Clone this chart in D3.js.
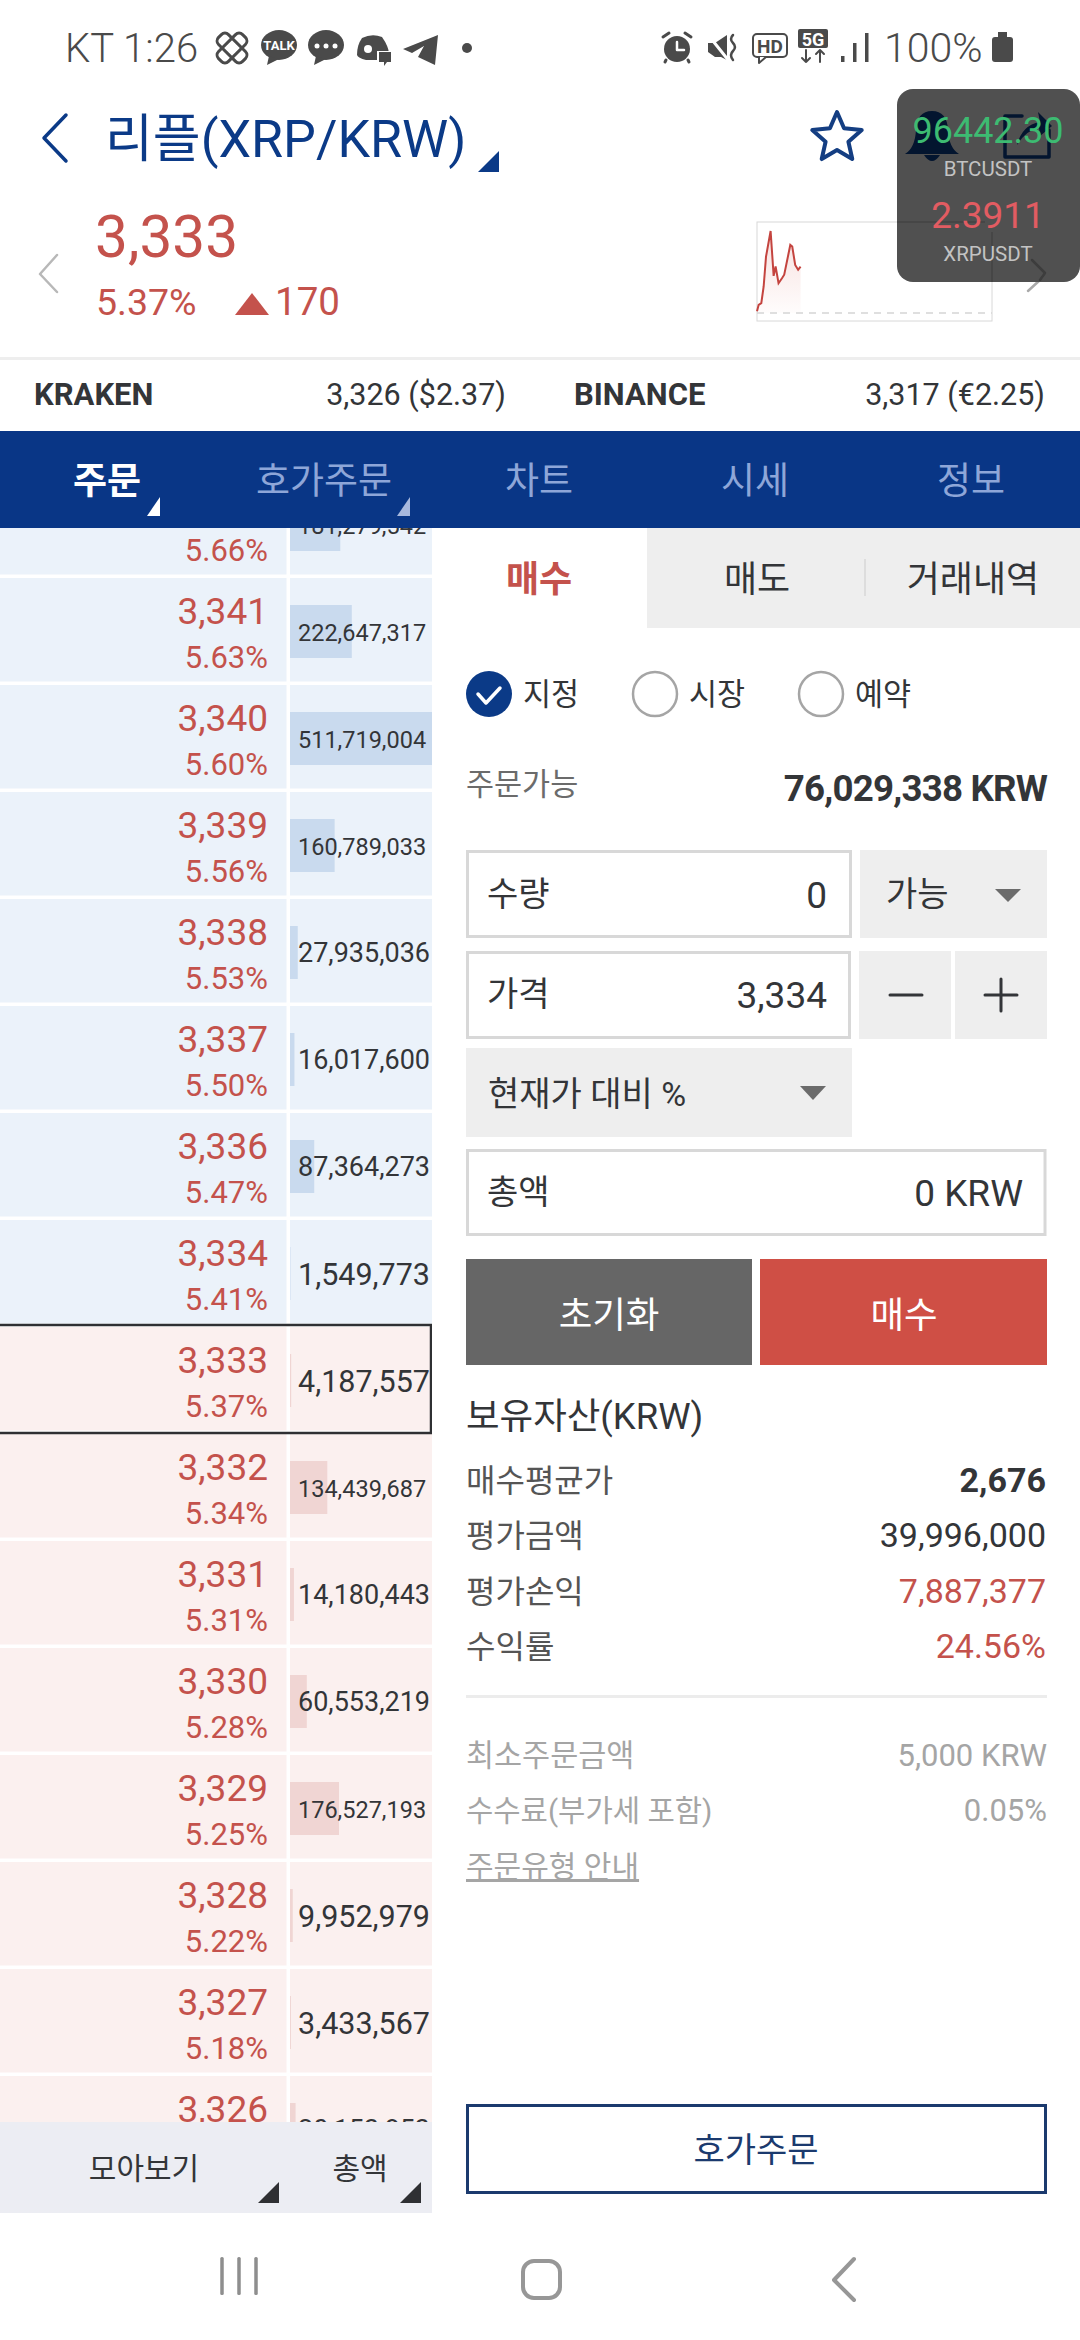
<!DOCTYPE html>
<html>
<head>
<meta charset="utf-8">
<style>
	body { margin: 0; background: #fff; }
	svg { display: block; }
	text { font-family: Roboto, "Noto Sans CJK KR", sans-serif; }
</style>
<script src="https://cdnjs.cloudflare.com/ajax/libs/d3/7.8.5/d3.min.js"></script>
</head>
<body>
<div id="container"></div>
<script>
// order book
var prices = [3342, 3341, 3340, 3339, 3338, 3337, 3336, 3334, 3333, 3332, 3331, 3330, 3329, 3328, 3327, 3326];
var pcts = [5.66, 5.63, 5.60, 5.56, 5.53, 5.50, 5.47, 5.41, 5.37, 5.34, 5.31, 5.28, 5.25, 5.22, 5.18, 5.15];
var vols = [181279542, 222647317, 511719004, 160789033, 27935036, 16017600, 87364273, 1549773, 4187557, 134439687, 14180443, 60553219, 176527193, 9952979, 3433567, 20153853];
var currentPrice = 3333;

// mini chart next to the price, hours since open and price
var sparkHours = [0, 0.17, 0.44, 0.68, 0.92, 1.39, 1.7, 1.9, 2.2, 2.55, 2.78, 3.4, 3.6, 3.9, 4.2, 4.45];
var sparkPrices = [3169, 3193, 3199, 3260, 3369, 3463, 3299, 3333, 3272, 3290, 3303, 3412, 3406, 3339, 3321, 3333];
var prevClose = 3163;

// text of the screen
var tabs = ['주문', '호가주문', '차트', '시세', '정보'];
var tabX = [107, 324, 539, 755, 971];
var assetLabels = ['매수평균가', '평가금액', '평가손익', '수익률'];
var assetValues = ['2,676', '39,996,000', '7,887,377', '24.56%'];
var assetY = [1492, 1547, 1603, 1658];

var red = '#c4524c', navy = '#0b3a87', dark = '#333538', grey = '#4a4a4a';

var svg = d3.select('#container').append('svg')
	.attr('width', 1080)
	.attr('height', 2340);

function txt(g, x, y, s, size, fill, anchor, weight) {
	return g.append('text')
		.attr('x', x)
		.attr('y', y)
		.attr('font-size', size)
		.attr('fill', fill)
		.attr('text-anchor', anchor || 'start')
		.attr('font-weight', weight || 400)
		.text(s);
}

function box(g, x, y, w, h, fill, stroke, sw) {
	return g.append('rect')
		.attr('x', x)
		.attr('y', y)
		.attr('width', w)
		.attr('height', h)
		.attr('fill', fill)
		.attr('stroke', stroke || 'none')
		.attr('stroke-width', sw || 0);
}

function poly(g, d, fill, stroke, sw) {
	return g.append('path')
		.attr('d', d)
		.attr('fill', fill)
		.attr('stroke', stroke || 'none')
		.attr('stroke-width', sw || 0)
		.attr('stroke-linecap', 'round')
		.attr('stroke-linejoin', 'round');
}

drawStatus();
drawHeader();
drawSpark();
drawOverlay();
drawBook();
drawForm();
drawNav();

function drawStatus() {
	var g = svg.append('g');
	txt(g, 65, 62, 'KT 1:26', 40, grey, 'start', 300);

	// knot icon
	var knot = g.append('g').attr('transform', 'translate(232,48) rotate(45)');
	box(knot, -17, -7, 34, 14, 'none', grey, 3).attr('rx', 5);
	box(knot, -7, -17, 14, 34, 'none', grey, 3).attr('rx', 5);

	// talk bubbles
	g.append('ellipse').attr('cx', 279).attr('cy', 45).attr('rx', 18).attr('ry', 15).attr('fill', grey);
	poly(g, 'M269,56L267,65L279,59Z', grey);
	txt(g, 279, 50, 'TALK', 13, '#fff', 'middle', 700);
	g.append('ellipse').attr('cx', 326).attr('cy', 45).attr('rx', 18).attr('ry', 15).attr('fill', grey);
	poly(g, 'M316,56L314,65L326,59Z', grey);
	[317, 326, 335].forEach(function(x) {
		g.append('circle').attr('cx', x).attr('cy', 46).attr('r', 2.5).attr('fill', '#fff');
	});

	// discord
	poly(g, 'M362,38Q372,33 382,37Q389,47 389,54L379,60L366,60Q358,58 357,55Q357,45 362,38Z', grey);
	g.append('circle').attr('cx', 368).attr('cy', 49).attr('r', 4).attr('fill', '#fff');
	box(g, 377, 51, 15, 12, '#fff');
	poly(g, 'M379,52H391V62H387L384,66V62H379Z', grey);

	// telegram
	poly(g, 'M403,49L438,35L435,65L418,57L424,46L412,53Z', grey);
	g.append('circle').attr('cx', 467).attr('cy', 48).attr('r', 5).attr('fill', grey);

	// alarm
	g.append('circle').attr('cx', 677).attr('cy', 49).attr('r', 13).attr('fill', grey);
	poly(g, 'M677,42V50H684', 'none', '#fff', 2.5);
	poly(g, 'M663,37L669,33', 'none', grey, 3);
	poly(g, 'M691,37L685,33', 'none', grey, 3);
	poly(g, 'M666,60L665,62', 'none', grey, 3);
	poly(g, 'M688,60L689,62', 'none', grey, 3);

	// mute
	poly(g, 'M708,43H715L727,35V60L721,57H715L708,52Z', grey);
	poly(g, 'M709,36L729,61', 'none', '#fff', 3);
	poly(g, 'M733,35Q729,39 733,43Q737,47 733,51Q729,55 733,60', 'none', grey, 2.5);

	// HD
	box(g, 753, 34, 34, 23, '#fff', grey, 2).attr('rx', 4);
	poly(g, 'M759,57V63L766,57', '#fff', grey, 2);
	txt(g, 770, 53, 'HD', 19, grey, 'middle', 700);

	// 5G
	box(g, 798, 29, 30, 19, grey).attr('rx', 2);
	txt(g, 813, 46, '5G', 18, '#fff', 'middle', 700);
	poly(g, 'M806,50V62M802,58L806,62L810,58', 'none', grey, 2);
	poly(g, 'M820,62V50M816,54L820,50L824,54', 'none', grey, 2);

	// signal, battery
	box(g, 841, 56, 3.5, 6, grey);
	box(g, 853, 43, 3.5, 19, grey);
	box(g, 865, 33, 3.5, 29, grey);
	txt(g, 884, 62, '100%', 41, grey, 'start', 300);
	box(g, 992, 37, 21, 25, grey).attr('rx', 3);
	box(g, 998, 32, 9, 6, grey);
}

function drawHeader() {
	var g = svg.append('g');
	poly(g, 'M66,115L44,138L66,161', 'none', navy, 3.5);
	txt(g, 105, 157, '리플(XRP/KRW)', 52, navy);
	poly(g, 'M499,151V172H478Z', navy);

	// star
	var star = d3.range(10).map(function(i) {
		var r = i % 2 ? 12 : 26, a = i * Math.PI / 5;
		return [837 + r * Math.sin(a), 138 - r * Math.cos(a)];
	});
	poly(g, d3.line()(star) + 'Z', 'none', '#143e82', 4);

	txt(g, 95, 257, '3,333', 58.5, red);
	txt(g, 96, 315, '5.37%', 37.5, red);
	poly(g, 'M252,293L269,315H235Z', red);
	txt(g, 275, 315, '170', 38.5, red);
	poly(g, 'M57,255L40,274L57,292', 'none', '#b8b8b8', 2.5);

	box(g, 0, 357, 1080, 3, '#eeeeee');
	txt(g, 34, 405, 'KRAKEN', 31, dark, 'start', 700);
	txt(g, 506, 405, '3,326 ($2.37)', 30.5, dark, 'end');
	txt(g, 574, 405, 'BINANCE', 31, dark, 'start', 700);
	txt(g, 1045, 405, '3,317 (€2.25)', 30.5, dark, 'end');

	box(g, 0, 431, 1080, 97, '#093686');
	tabs.forEach(function(t, i) {
		txt(g, tabX[i], 494, t, 37, i == 0 ? '#fff' : '#8ea6d8', 'middle', i == 0 ? 700 : 400);
	});
	poly(g, 'M160,497V516H147Z', '#fff');
	poly(g, 'M410,497V516H397Z', '#a8b9de');
}

function drawSpark() {
	var g = svg.append('g');
	var x = d3.scaleLinear().domain([0, 24]).range([757, 992]);
	var y = d3.scaleLinear().domain([prevClose, 3463]).range([313, 231]);

	var grad = svg.append('defs').append('linearGradient')
		.attr('id', 'sparkFill')
		.attr('x1', 0).attr('y1', 0)
		.attr('x2', 0).attr('y2', 1);
	grad.append('stop').attr('offset', 0).attr('stop-color', '#e9a6a1').attr('stop-opacity', 0.35);
	grad.append('stop').attr('offset', 1).attr('stop-color', '#e9a6a1').attr('stop-opacity', 0.03);

	box(g, 757, 222, 235, 99, '#fff', '#d8d8d8', 1);

	var area = d3.area()
		.x(function(d, i) { return x(sparkHours[i]); })
		.y0(y(prevClose))
		.y1(function(d) { return y(d); });
	var line = d3.line()
		.x(function(d, i) { return x(sparkHours[i]); })
		.y(function(d) { return y(d); });

	g.append('path').datum(sparkPrices).attr('d', area).attr('fill', 'url(#sparkFill)');
	g.append('line')
		.attr('x1', 757).attr('x2', 992)
		.attr('y1', y(prevClose)).attr('y2', y(prevClose))
		.attr('stroke', '#d5d5d5')
		.attr('stroke-width', 1.5)
		.attr('stroke-dasharray', '7,6');
	g.append('path').datum(sparkPrices)
		.attr('d', line)
		.attr('fill', 'none')
		.attr('stroke', '#c4443f')
		.attr('stroke-width', 2);
}

function drawOverlay() {
	var g = svg.append('g');
	poly(g, 'M1040,280L1028,291', 'none', '#aaaaaa', 2.5);
	box(g, 897, 89, 183, 193, '#505050').attr('rx', 16);

	// things of the page showing through the floating window
	poly(g, 'M932,111Q947,111 948,130Q949,148 959,154H905Q915,148 916,130Q917,111 932,111Z', '#03152f');
	poly(g, 'M924,155Q932,167 940,155Z', '#03152f');
	poly(g, 'M1022,116H1005V157H1049V130', 'none', '#03152f', 3.5);
	poly(g, 'M1017,145Q1022,125 1040,122L1038,112L1052,126L1040,136L1039,128Q1026,130 1017,145Z', '#03152f');
	g.append('line').attr('x1', 897).attr('x2', 985).attr('y1', 222).attr('y2', 222).attr('stroke', '#3d3d3d').attr('stroke-width', 1);
	g.append('line').attr('x1', 992).attr('x2', 992).attr('y1', 232).attr('y2', 282).attr('stroke', '#3d3d3d').attr('stroke-width', 1);
	poly(g, 'M1032,260L1045,273L1040,280', 'none', '#3d3d3d', 2.5);

	txt(g, 988, 143, '96442.30', 36, '#3dbb72', 'middle');
	txt(g, 988, 176, 'BTCUSDT', 20.5, '#c3c3c3', 'middle');
	txt(g, 988, 228, '2.3911', 37, '#e25c62', 'middle');
	txt(g, 988, 261, 'XRPUSDT', 20.5, '#c3c3c3', 'middle');
}

function drawBook() {
	var rowH = 107;
	var y = d3.scaleBand()
		.domain(prices)
		.range([472, 472 + rowH * prices.length]);
	var volX = d3.scaleLinear()
		.domain([0, d3.max(vols)])
		.range([0, 142]);
	var volSize = { 7: 30.5, 8: 27, 9: 23.5 };

	svg.select('defs').append('clipPath')
		.attr('id', 'bookClip')
		.append('rect')
		.attr('x', 0).attr('y', 528)
		.attr('width', 432).attr('height', 1594);

	var g = svg.append('g').attr('clip-path', 'url(#bookClip)');

	var rows = g.selectAll('.row')
		.data(prices)
		.enter().append('g')
		.attr('class', 'row')
		.attr('transform', function(d) { return 'translate(0,' + y(d) + ')'; });

	function bg(d) { return d > currentPrice ? '#ebf2fa' : '#fbf0ef'; }

	rows.append('rect')
		.attr('y', -1)
		.attr('width', 286.5)
		.attr('height', 103.5)
		.attr('fill', bg);
	rows.append('rect')
		.attr('x', 290)
		.attr('y', -1)
		.attr('width', 142)
		.attr('height', 103.5)
		.attr('fill', bg);
	rows.append('rect')
		.attr('x', 290)
		.attr('y', 26)
		.attr('height', 53)
		.attr('width', function(d, i) { return volX(vols[i]); })
		.attr('fill', function(d) { return d > currentPrice ? '#c9daee' : '#f0d5d3'; });
	rows.append('text')
		.attr('x', 268)
		.attr('y', 45)
		.attr('text-anchor', 'end')
		.attr('font-size', 37)
		.attr('fill', red)
		.text(function(d) { return d3.format(',')(d); });
	rows.append('text')
		.attr('x', 268)
		.attr('y', 89)
		.attr('text-anchor', 'end')
		.attr('font-size', 31)
		.attr('fill', red)
		.text(function(d, i) { return pcts[i].toFixed(2) + '%'; });
	rows.append('text')
		.attr('x', 298)
		.attr('y', function(d, i) { return String(vols[i]).length == 7 ? 64 : 62; })
		.attr('font-size', function(d, i) { return volSize[String(vols[i]).length]; })
		.attr('fill', dark)
		.text(function(d, i) { return d3.format(',')(vols[i]); });

	// box around the current price
	box(g, -4, y(currentPrice) - 3, 435, 108, 'none', '#2f3033', 2.5);

	var foot = svg.append('g');
	box(foot, 0, 2122, 432, 91, '#ecedf3');
	txt(foot, 144, 2179, '모아보기', 30, dark, 'middle');
	txt(foot, 360, 2179, '총액', 30, dark, 'middle');
	poly(foot, 'M279,2182V2203H258Z', '#2f3033');
	poly(foot, 'M421,2182V2203H400Z', '#2f3033');
}

function drawForm() {
	var g = svg.append('g');
	var arrow = '#6b6b6b', btn = '#eeeeee', line = '#d8d8d8';

	// buy, sell, history tabs
	box(g, 647, 528, 433, 100, btn);
	box(g, 864, 559, 2, 37, '#dddddd');
	txt(g, 539, 592, '매수', 36, red, 'middle', 700);
	txt(g, 757, 592, '매도', 36, dark, 'middle');
	txt(g, 973, 592, '거래내역', 36, dark, 'middle');

	// order type
	g.append('circle').attr('cx', 489).attr('cy', 694).attr('r', 23).attr('fill', navy);
	poly(g, 'M478,694L486,703L500,688', 'none', '#fff', 3.5);
	txt(g, 523, 705, '지정', 30.5, dark);
	g.append('circle').attr('cx', 655).attr('cy', 694).attr('r', 22).attr('fill', '#fff').attr('stroke', '#a5a5a5').attr('stroke-width', 2.5);
	txt(g, 689, 705, '시장', 30.5, dark);
	g.append('circle').attr('cx', 821).attr('cy', 694).attr('r', 22).attr('fill', '#fff').attr('stroke', '#a5a5a5').attr('stroke-width', 2.5);
	txt(g, 855, 705, '예약', 30.5, dark);

	txt(g, 466, 795, '주문가능', 30.5, '#6b6b6b');
	txt(g, 1047, 801, '76,029,338 KRW', 36.7, dark, 'end', 700).attr('letter-spacing', -0.8);

	// inputs
	box(g, 467.5, 851.5, 383, 85, '#fff', line, 3);
	txt(g, 487, 906, '수량', 34, dark);
	txt(g, 827, 908, '0', 37, dark, 'end');
	box(g, 860, 850, 187, 88, btn);
	txt(g, 886, 906, '가능', 34, dark);
	poly(g, 'M995,889H1021L1008,902Z', arrow);

	box(g, 467.5, 952.5, 382, 85, '#fff', line, 3);
	txt(g, 487, 1006, '가격', 34, dark);
	txt(g, 827, 1008, '3,334', 37, dark, 'end');
	box(g, 859, 951, 92, 88, btn);
	box(g, 955, 951, 92, 88, btn);
	poly(g, 'M890,995H922', 'none', dark, 3);
	poly(g, 'M985,995H1017M1001,979V1011', 'none', dark, 3);

	box(g, 466, 1048, 386, 89, btn);
	txt(g, 488, 1106, '현재가 대비 %', 34, dark);
	poly(g, 'M800,1086H826L813,1100Z', arrow);

	box(g, 467.5, 1150.5, 577.5, 84, '#fff', line, 3);
	txt(g, 487, 1204, '총액', 34, dark);
	txt(g, 1023, 1206, '0 KRW', 37, dark, 'end');

	// buttons
	box(g, 466, 1259, 286, 106, '#666666');
	box(g, 760, 1259, 287, 106, '#cf4f45');
	txt(g, 609, 1328, '초기화', 36.5, '#fff', 'middle');
	txt(g, 904, 1328, '매수', 36.5, '#fff', 'middle');

	// assets
	txt(g, 466, 1429, '보유자산(KRW)', 36.5, dark);
	assetLabels.forEach(function(t, i) {
		txt(g, 466, assetY[i], t, 32, '#555555');
		txt(g, 1046, assetY[i], assetValues[i], 34, i < 2 ? dark : red, 'end', i == 0 ? 700 : 400);
	});
	box(g, 466, 1695, 581, 3, '#ececec');

	txt(g, 466, 1766, '최소주문금액', 30.5, '#a5a5a5');
	txt(g, 1047, 1766, '5,000 KRW', 31, '#a5a5a5', 'end');
	txt(g, 466, 1821, '수수료(부가세 포함)', 29.7, '#a5a5a5');
	txt(g, 1047, 1821, '0.05%', 31, '#a5a5a5', 'end');
	txt(g, 466, 1877, '주문유형 안내', 30, '#a5a5a5').attr('text-decoration', 'underline');

	box(g, 467.5, 2105.5, 578, 87, '#fff', '#1b3a6e', 3);
	txt(g, 756, 2162, '호가주문', 34, '#1b3a6e', 'middle');
}

function drawNav() {
	var g = svg.append('g');
	[222, 239, 256].forEach(function(x) {
		box(g, x - 1.75, 2257, 3.5, 38, '#8e8e8e').attr('rx', 1.5);
	});
	box(g, 523, 2261, 37, 37, 'none', '#979797', 4).attr('rx', 11);
	poly(g, 'M854,2259L834,2280L854,2300', 'none', '#979797', 4);
}
</script>
</body>
</html>
